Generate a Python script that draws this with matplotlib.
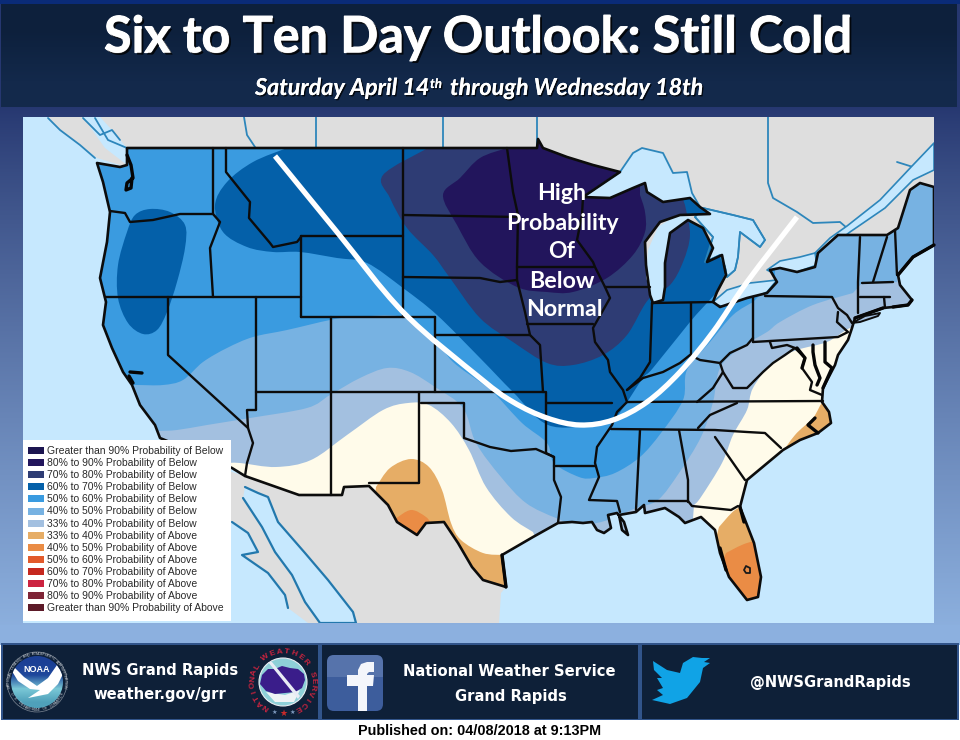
import numpy as np
import matplotlib
matplotlib.use("Agg")
import matplotlib.pyplot as plt
from matplotlib.path import Path
from matplotlib.patches import PathPatch, Polygon, Rectangle, Circle, FancyBboxPatch
import matplotlib.patheffects as pe

# ---------- text and legend ----------
TITLE = "Six to Ten Day Outlook: Still Cold"
LEGEND_LABELS = ["Greater than 90% Probability of Below", "80% to 90% Probability of Below",
    "70% to 80% Probability of Below", "60% to 70% Probability of Below", "50% to 60% Probability of Below",
    "40% to 50% Probability of Below", "33% to 40% Probability of Below", "33% to 40% Probability of Above",
    "40% to 50% Probability of Above", "50% to 60% Probability of Above", "60% to 70% Probability of Above",
    "70% to 80% Probability of Above", "80% to 90% Probability of Above", "Greater than 90% Probability of Above"]
LEGEND_COLORS = ["#1c1550", "#22155c", "#2e3c74", "#0460a9", "#3a9be0", "#77b2e2", "#a3c0e0",
    "#e6ad66", "#ea8c45", "#e25a2b", "#c5281f", "#cc2340", "#7e2436", "#5c1a28"]
MAP_WORDS = ["High", "Probability", "Of", "Below", "Normal"]

# ---------- geography, in picture pixels ----------
US = [(127,148),(537,148),(538,139),(543,148),(567,157),(593,165),(620,172),(583,197),(610,198),(633,188),(645,183),
 (647,192),(663,202),(690,198),(700,207),(710,214),(680,215),(660,222),(645,242),(646,265),(650,295),(653,303),(663,300),(665,287),
 (665,263),(670,233),(688,220),(703,228),(713,248),(707,262),(722,255),(726,275),(717,292),(713,302),(720,307),(747,298),
 (767,293),(777,282),(770,270),(780,268),(797,272),(815,267),(818,253),(838,235),(887,235),(898,228),(910,190),(920,183),(934,187),
 (934,245),(913,257),(898,275),(900,285),(912,300),(908,305),(893,307),(883,308),(855,318),(852,328),(848,340),(838,355),
 (835,365),(823,388),(822,402),(829,412),(831,423),(818,433),(800,440),(783,450),(747,480),(740,507),(754,543),(761,577),(758,597),
 (747,600),(729,577),(720,553),(715,530),(701,517),(685,523),(679,517),(665,508),(645,513),(644,505),(636,512),(619,515),(622,530),(628,535),
 (624,522),(617,513),(608,515),(611,528),(604,533),(597,530),(592,522),(583,523),(572,522),(558,523),(533,537),(502,555),(506,587),(483,580),
 (472,567),(458,543),(444,522),(426,523),(417,535),(397,522),(388,505),
 (369,486),(344,487),(342,495),(299,495),(245,476),(232,468),(160,438),(155,425),(140,405),(132,385),(123,372),(112,348),
 (103,325),(106,302),(100,278),(107,242),(110,212),(103,182),(97,163),(120,167),(127,165)]
MEXICO = [(225,470),(245,476),(299,495),(342,495),(344,487),(369,486),(388,505),(397,522),(417,535),(426,523),(444,522),
 (458,543),(472,567),(483,580),(506,587),(501,593),(499,623),(225,623)]
CANADA = [(48,117),(934,117),(934,190),(880,300),(127,300),(120,165),(97,158),(80,145),(60,130)]
GULF_CA = [(245,487),(258,493),(268,497),(278,522),(305,553),(328,580),(353,612),(356,623),(320,623),(305,602),(292,575),
 (275,552),(262,527),(243,498)]
PACIFIC_BAJA = [(225,520),(232,522),(248,533),(258,552),(242,555),(268,573),(285,595),(288,608),(308,623),(225,623)]
STRAIT = [(83,117),(100,117),(112,130),(127,148),(127,165),(118,158),(105,148)]
SUPERIOR = [(583,197),(620,172),(633,153),(642,148),(663,153),(673,173),(687,172),(692,193),(700,207),(690,198),(663,202),(647,192),
 (645,183),(633,188),(610,198)]
MICHIGAN = [(653,303),(646,277),(648,250),(658,227),(677,215),(692,217),(688,220),(670,233),(665,263),(665,287),(660,302)]
HURON = [(703,208),(733,215),(753,220),(765,240),(760,247),(740,232),(738,257),(735,270),(727,277),(725,267),(720,255),
 (705,262),(713,237),(695,217)]
ERIE = [(713,302),(727,290),(750,283),(777,280),(767,292),(753,298),(730,308),(717,305)]
ONTARIO = [(767,270),(780,261),(800,257),(815,253),(817,265),(797,272),(777,275)]
ST_LAWRENCE = [(815,253),(830,238),(847,226),(880,200),(913,165),(934,143),(934,170),(913,180),(885,208),(850,232),(820,255)]
BLUE_LINES = [[(244,117),(247,135),(255,147)],[(316,117),(316,147)],[(443,117),(443,147)],[(537,117),(537,145)],
 [(768,117),(768,183),(773,198),(797,212),(813,223),(840,222),(847,228)],[(897,162),(913,167),(907,182)],
 [(48,118),(60,130),(80,145),(95,158)],[(83,118),(100,135),(112,130),(120,140)],[(95,118),(108,140),(127,148)]]

STATE_LINES = [
 [(110,211),(125,213),(130,222),(153,220),(180,214),(213,214),(220,222),(210,248),(213,297)],
 [(213,148),(213,214)], [(105,297),(301,297)], [(168,297),(168,355),(248,428),(253,443),(247,463),(245,476)],
 [(226,148),(226,172),(250,202),(249,218),(270,243),(273,247),(297,242),(301,237)],
 [(301,236),(403,236)], [(301,236),(301,317)], [(301,317),(435,317)], [(403,148),(403,317)],
 [(256,297),(256,410),(247,410),(248,428)], [(331,317),(331,495)], [(256,392),(545,392)], [(435,317),(435,392)],
 [(435,335),(530,335)], [(403,215),(518,217)], [(403,277),(480,278),(500,282),(517,280)],
 [(507,148),(513,192),(518,215),(517,267),(517,280),(525,312),(530,335),(540,345),(543,392)],
 [(517,267),(593,267)], [(583,197),(582,215),(577,240),(593,262),(595,267),(605,287),(610,298),(593,328),(595,342),(608,360),
  (610,372),(623,390),(627,402),(617,412),(612,425),(597,447),(595,463),(599,477),(589,500),(617,501),(620,512)],
 [(527,324),(593,324)], [(605,287),(650,287)], [(419,392),(419,483),(369,483)], [(421,403),(464,403),(464,438),(490,447),
  (511,451),(536,449),(554,457),(554,480),(561,497),(558,523)],
 [(546,392),(546,453),(554,457)], [(547,403),(612,403)], [(554,466),(595,466)],
 [(627,402),(823,401)], [(611,429),(715,430),(747,432),(765,433),(781,448)], [(640,430),(636,510)],
 [(679,430),(688,480),(688,502)], [(649,501),(688,501),(692,506),(731,510),(738,506)], [(715,437),(745,480)], [(698,428),(710,415),(737,403)],
 [(652,303),(650,362),(640,378),(627,390)], [(627,390),(643,378),(663,372),(680,363),(690,355),(700,360),(720,363),(730,353),(747,345),(753,338)],
 [(691,303),(691,355)], [(652,303),(713,302)], [(753,297),(753,342)], [(765,296),(832,297),(838,308),(847,315),(852,323)],
 [(838,312),(837,322),(848,332),(838,337),(753,342)],
 [(770,342),(772,348),(787,345),(795,348),(785,355),(773,363),(763,372),(747,388),(733,388),(723,372),(720,363)],
 [(723,372),(713,388),(697,402)], [(795,348),(805,358),(802,368),(812,382),(810,390),(822,395)],
 [(860,237),(858,282),(858,313)], [(862,283),(893,282)], [(887,237),(873,282)], [(895,230),(897,275)],
 [(860,297),(890,297)], [(884,297),(885,308)]]
HEAVY_LINES = [[(127,155),(131,165),(133,178),(127,183),(126,190),(131,188),(132,178)], [(130,372),(142,373)], [(129,376),(133,383)],
 [(813,345),(813,352),(815,365),(820,378),(817,385)], [(825,342),(825,362),(832,368),(823,388)], [(934,245),(913,257),(898,275)],
 [(720,548),(726,570)], [(740,507),(744,522)], [(502,555),(506,587)], [(893,307),(908,305),(912,300)], [(797,348),(805,358),(802,368)],
 [(818,433),(808,425),(815,418)], [(855,318),(883,308)]]
LONG_ISLAND = [(852,323),(865,316),(880,313),(878,316),(860,322)]
LAKE_OKEE = [(746,566),(750,568),(750,573),(746,573),(744,570)]

# ---------- outlook contours, in picture pixels ----------
B33_EDGE = [(225,463),(240,463),(276,467),(311,460),(347,435),(383,410),(408,403),(429,405),(451,423),(469,450),(486,487),
 (511,517),(533,532)]
B33_EDGE2 = [(694,505),(701,497),(722,463),(733,435),(747,410),(753,388),(773,362),(797,350),(827,342),(850,328),(870,325)]
B40_EDGE = [(140,432),(158,431),(177,430),(207,425),(250,418),(307,408),(330,395),(360,378),(387,368),(410,372),(435,387),(463,408),
 (476,443),(501,477),(526,503),(556,518),(580,525),(608,520),(636,508),(658,500),(679,473),(701,437),(713,402),(720,368),(740,348),(767,332),
 (780,322),(813,305),(853,293)]
B50_EDGE = [(125,385),(138,385),(163,385),(183,380),(203,362),(227,348),(253,337),(287,330),(330,320),(353,317),(403,317),(433,338),
 (453,362),(480,382),(494,393),(522,423),(547,443),(554,463),(579,477),(594,478),(615,473),(640,457),(661,433),(683,400),(687,370),(710,342),
 (733,315),(753,302)]
B60_OREGON = [(135,215),(150,209),(170,212),(185,225),(185,248),(177,282),(167,312),(157,330),(143,334),(128,323),(118,298),(118,265),(127,232)]
B60_EDGE = [(287,148),(253,162),(227,182),(215,205),(223,232),(247,247),(273,252),(300,252),(337,258),(367,263),(403,288),(437,315),(480,358),
 (513,392),(548,425),(593,425),(612,420),(623,408),(643,378),(653,368),(690,322),(707,303),(717,292)]
B70_EDGE = [(428,148),(383,175),(390,198),(407,228),(433,255),(450,278),(480,318),(513,342),(547,363),(573,365),(603,355),(627,335),(648,300),
 (670,285),(683,262),(690,235),(685,205)]
B80_EDGE = [(507,148),(480,158),(460,178),(443,195),(457,225),(480,262),(517,287),(547,292),(573,292),(607,278),(633,255),(645,232),(645,212),(640,195)]
A33_TX = [(376,487),(390,468),(411,459),(429,467),(442,490),(451,523),(461,540),(483,553),(504,555)]
A40_TX = [(395,519),(411,510),(426,517),(432,525)]
A33_FL = [(719,527),(735,510),(750,505)]
A40_FL = [(726,553),(747,543),(776,537)]
A33_NC = [(780,457),(795,435),(813,418),(824,402),(835,420),(815,440),(785,460)]
NC_BANK = [(823,403),(829,412),(830,423),(813,432)]
WHITE_CURVE = [(275,156),(337,232),(403,312),(480,378),(513,402),(547,418),(580,425),(613,420),(647,402),(680,372),(713,332),(747,282),(797,217)]

# ---------- logos, in picture pixels ----------
TWITTER = [(653,661),(667,670),(680,673),(683,663),(693,657),(702,658),(710,658),(704,662),(710,663),(703,668),(700,682),(687,698),(670,704),
 (652,700),(663,695),(657,690),(663,688),(657,678),(662,678),(654,670)]
FB_F = [(358,711),(358,686),(347,686),(347,675),(358,675),(358,670),(361,664),(367,662),(374,662),(374,672),(369,672),(367,674),(367,675),(374,675),(373,686),(367,686),(367,711)]
NWS_CLOUD = [(262,675),(268,669),(275,669),(282,666),(290,668),(298,669),(304,674),(305,680),(302,688),(295,692),(285,693),(275,694),(266,691),(260,684)]
NWS_BOLT = [(268,662),(272,662),(300,696),(298,699)]
NOAA_SWOOSH = [(10,668),(14,667),(24,677),(37,686),(48,678),(57,665),(63,674),(58,684),(48,694),(28,698),(40,690),(30,689),(18,681)]

fig = plt.figure(figsize=(9.6, 7.4), dpi=100)
ax = fig.add_axes([0, 0, 1, 1])
ax.set_xlim(0, 960); ax.set_ylim(740, 0); ax.axis("off")

def smooth(pts, closure=(), closed=False):
    p = np.array(pts, float)
    if closed:
        p = np.vstack([p[-1], p, p[0], p[1]])
    else:
        p = np.vstack([p[0], p, p[-1]])
    v = [p[1]]; c = [Path.MOVETO]
    for i in range(1, len(p) - 2):
        c1 = p[i] + (p[i+1] - p[i-1]) / 6
        c2 = p[i+1] - (p[i+2] - p[i]) / 6
        v += [c1, c2, p[i+1]]; c += [Path.CURVE4] * 3
    for q in closure:
        v.append(q); c.append(Path.LINETO)
    if closure or closed:
        v.append(v[0]); c.append(Path.CLOSEPOLY)
    return Path(np.array(v), c)

def poly(pts, fc, ec="none", lw=0, z=1, **kw):
    pa = Polygon(pts, closed=True, fc=fc, ec=ec, lw=lw, zorder=z, joinstyle="round", **kw)
    ax.add_patch(pa)
    return pa

def line(pts, color, lw, z, **kw):
    a = np.array(pts)
    return ax.plot(a[:, 0], a[:, 1], color=color, lw=lw, zorder=z, solid_capstyle="round", solid_joinstyle="round", **kw)[0]

# page background
ax.add_patch(Rectangle((0, 0), 960, 112, fc="#263770", ec="none", zorder=0))
grad = np.linspace(0, 1, 256)[:, None]
c0, c1 = np.array([0x26, 0x37, 0x70]) / 255, np.array([0x8e, 0xb2, 0xe0]) / 255
img = (c0 + (c1 - c0) * grad[..., None] ** 0.85).reshape(256, 1, 3)
ax.imshow(img, extent=(0, 960, 640, 105), aspect="auto", zorder=0)
ax.set_xlim(0, 960); ax.set_ylim(740, 0)
ax.add_patch(Rectangle((0, 625), 960, 20, fc="#8cb0df", ec="none", zorder=0.1))
ax.add_patch(Rectangle((0, 720), 960, 20, fc="white", ec="none", zorder=0.1))

# header
ax.add_patch(Rectangle((0, 0), 960, 4, fc="#0a2b78", ec="none", zorder=1))
ax.imshow(np.array([[[0x0d, 0x20, 0x3c]], [[0x13, 0x29, 0x4b]]], dtype=np.uint8), extent=(1, 957, 107, 4), aspect="auto", zorder=1, interpolation="bilinear")
ax.set_xlim(0, 960); ax.set_ylim(740, 0)
t = ax.text(478, 38, TITLE, color="white", fontfamily="Lato", fontweight="bold", fontsize=36.2, ha="center", va="center", zorder=5)
t.set_path_effects([pe.withStroke(linewidth=0.9, foreground="white"), pe.withSimplePatchShadow(offset=(1.5, -1.5), shadow_rgbFace="black", alpha=0.8), pe.Normal()])
sub_style = dict(color="white", fontfamily="Lato", fontweight="bold", fontstyle="italic", va="baseline", zorder=5)
for x, y, s, fs in [(255, 95, "Saturday April 14", 16.8), (430, 88, "th", 9.5), (450, 95, "through Wednesday 18th", 16.8)]:
    tt = ax.text(x, y, s, fontsize=fs, **sub_style)
    tt.set_path_effects([pe.withSimplePatchShadow(offset=(1, -1), shadow_rgbFace="black", alpha=0.8), pe.Normal()])

# map
ax.add_patch(Rectangle((23, 117), 911, 506, fc="#c6e8fe", ec="none", zorder=2))
frame = Rectangle((23, 117), 911, 506, transform=ax.transData)
for pts, col in [(CANADA, "#dedede"), (MEXICO, "#dedede"), (GULF_CA, "#c6e8fe"), (PACIFIC_BAJA, "#c6e8fe"), (STRAIT, "#c6e8fe")]:
    poly(pts, col, z=3).set_clip_path(frame)
for pts in BLUE_LINES:
    line(pts, "#2d86bb", 1.3, 3.2).set_clip_path(frame)
for pts in [GULF_CA, PACIFIC_BAJA[1:-2]]:
    line(pts, "#2278ad", 1.6, 3.2).set_clip_path(frame)
for pts in [HURON, ERIE, ONTARIO, ST_LAWRENCE]:
    poly(pts, "#c6e8fe", ec="#2d86bb", lw=1.2, z=3.3).set_clip_path(frame)

us_patch = poly(US, "#fffbea", z=4)
us_patch.set_clip_path(frame)

def band(path, color, z):
    pa = PathPatch(path, fc=color, ec="none", lw=0, zorder=z)
    ax.add_patch(pa)
    pa.set_clip_path(us_patch.get_path(), us_patch.get_transform())

# blue 33-40: the whole northern part, with a straight run under the Gulf
v1 = smooth(B33_EDGE); v2 = smooth(B33_EDGE2)
verts = np.vstack([v1.vertices, [(545, 560), (690, 560), (694, 505)], v2.vertices[1:], [(960, 300), (960, 90), (90, 90), (90, 463), (225, 463)]])
codes = list(v1.codes) + [Path.LINETO] * 3 + list(v2.codes[1:]) + [Path.LINETO] * 4 + [Path.CLOSEPOLY]
band(Path(verts, codes), "#a3c0e0", 4.1)
band(smooth(B40_EDGE, [(862,283),(897,282),(898,270),(960,255),(960,90),(90,90),(90,432)]), "#77b2e2", 4.2)
band(smooth(B50_EDGE, [(775,280),(775,90),(90,90),(90,385)]), "#3a9be0", 4.3)
band(smooth(B60_OREGON, closed=True), "#0460a9", 4.4)
band(smooth(B60_EDGE, [(735,250),(735,90),(287,90)]), "#0460a9", 4.4)
band(smooth(B70_EDGE, [(670,160),(640,90),(428,90)]), "#2e3c74", 4.5)
band(smooth(B80_EDGE, [(640,90),(507,90)]), "#22155c", 4.6)
band(smooth(A33_TX, [(560,640),(360,640)]), "#e6ad66", 4.7)
band(smooth(A40_TX, [(432,560),(380,560)]), "#ea8c45", 4.8)
band(smooth(A33_FL, [(790,520),(790,640),(690,640)]), "#e6ad66", 4.7)
band(smooth(A40_FL, [(790,640),(690,640)]), "#ea8c45", 4.8)
band(smooth(A33_NC, closed=True), "#e6ad66", 4.7)
line(NC_BANK, "#e6ad66", 1.3, 4.9)

# lakes over the land
for pts in [SUPERIOR, MICHIGAN]:
    poly(pts, "#c6e8fe", z=5)
line(SUPERIOR[:9], "#2d86bb", 1.3, 5.1)
line(HURON, "#2d86bb", 1.3, 5.1)

# borders
poly(US, "none", ec="#0c0c0c", lw=1.9, z=6).set_clip_path(frame)
for pts in STATE_LINES:
    line(pts, "#0c0c0c", 1.7, 6)
for pts in HEAVY_LINES:
    line(pts, "#050505", 2.4, 6)
poly(LONG_ISLAND, "#a3c0e0", ec="#0c0c0c", lw=1.4, z=6.1)
poly(LAKE_OKEE, "none", ec="#1a1a1a", lw=1.3, z=6.1)

# white trough and words
ax.add_patch(PathPatch(smooth(WHITE_CURVE), fc="none", ec="white", lw=3.8, zorder=7, capstyle="butt"))
for word, y, x in zip(MAP_WORDS, [194, 223, 252, 281, 310], [562, 562, 562, 562, 564]):
    ax.text(x, y, word, color="white", fontfamily="Lato", fontweight="bold", fontsize=16.7, ha="center", va="center", zorder=8)

# legend
ax.add_patch(Rectangle((23, 440), 208, 181, fc="white", ec="none", zorder=9))
for i, (lab, col) in enumerate(zip(LEGEND_LABELS, LEGEND_COLORS)):
    y = 450.5 + i * 12.1
    ax.add_patch(Rectangle((28, y - 3.5), 15.5, 7, fc=col, ec="none", zorder=10))
    ax.text(47, y + 0.5, lab, fontfamily="Liberation Sans", fontsize=7.45, color="#2a2a2a", va="center", ha="left", zorder=10)

# footer panels
for x0, x1 in [(3, 318), (322, 638), (642, 957)]:
    ax.add_patch(Rectangle((x0 - 2, 643), x1 - x0 + 4, 77, fc="#31548a", ec="none", zorder=2))
    ax.add_patch(Rectangle((x0, 645), x1 - x0, 74, fc="#0e2038", ec="none", zorder=3))
ft = dict(color="white", fontfamily="DejaVu Sans", fontweight="bold", va="center", ha="center", zorder=5)
ax.text(160, 670, "NWS Grand Rapids", fontsize=10.6, **ft)
ax.text(160, 694, "weather.gov/grr", fontsize=10.6, **ft)
ax.text(509, 671, "National Weather Service", fontsize=10.6, **ft)
ax.text(511, 696, "Grand Rapids", fontsize=10.6, **ft)
ax.text(830, 683, "@NWSGrandRapids", fontsize=10.6, **ft)
ax.text(479.5, 731, "Published on: 04/08/2018 at 9:13PM", fontfamily="Liberation Sans", fontweight="bold", fontsize=10.4, color="black", ha="center", va="center", zorder=5)

def arc_text(cx, cy, r, s, a0, a1, size, color, weight="bold", flip=False):
    for ch, a in zip(s, np.linspace(a0, a1, len(s))):
        th = np.radians(a)
        ax.text(cx + r * np.cos(th), cy - r * np.sin(th), ch, fontsize=size, color=color, fontfamily="Liberation Sans",
                fontweight=weight, rotation=a + (90 if flip else -90), ha="center", va="center", zorder=5.5, rotation_mode="anchor")

# NOAA seal
ax.add_patch(Circle((37, 682), 30, fc="#0e2038", ec="#7d8794", lw=0.5, zorder=4))
noaa = ax.imshow(np.array([[[0x1b, 0x3f, 0x95]], [[0x1f, 0x48, 0x9c]], [[0x7a, 0xc8, 0xd6]], [[0x4f, 0xa0, 0xba]]], dtype=np.uint8),
                 extent=(10, 64, 709, 655), aspect="auto", zorder=4.2, interpolation="bilinear")
noaa.set_clip_path(Circle((37, 682), 26, transform=ax.transData))
ax.set_xlim(0, 960); ax.set_ylim(740, 0)
swoosh = poly(NOAA_SWOOSH, "white", z=4.4)
swoosh.set_clip_path(Circle((37, 682), 26, transform=ax.transData))
ax.text(37, 670, "NOAA", fontsize=6.5, fontfamily="Liberation Sans", fontweight="bold", color="white", ha="center", va="center", zorder=5)
arc_text(37, 682, 28, "NATIONAL OCEANIC AND ATMOSPHERIC ADMINISTRATION", 190, -10, 2.6, "#c9ced4", weight="normal")
arc_text(37, 682, 28, "U.S. DEPARTMENT OF COMMERCE", 205, 335, 2.6, "#c9ced4", weight="normal", flip=True)

# NWS seal
ax.add_patch(Circle((283, 682), 24, fc="#8ed0d8", ec="#e8edf2", lw=0.8, zorder=4.1))
poly(NWS_CLOUD, "#3a1d8a", z=4.3)
poly([(266,692),(285,695),(300,690),(294,702),(275,702)], "#eef3f5", z=4.25)
poly(NWS_BOLT, "#e8ecf5", z=4.5)
arc_text(283, 682, 30, "NATIONAL", 235, 150, 6, "#c9243f")
arc_text(283, 682, 30, "WEATHER", 125, 40, 6, "#c9243f")
arc_text(283, 682, 30, "SERVICE", 15, -60, 6, "#c9243f")
ax.text(283, 713, "★", fontsize=6.5, color="#c92a2a", ha="center", va="center", zorder=5)
ax.text(274, 712, "★", fontsize=4.5, color="#7f9bc0", ha="center", va="center", zorder=5)
ax.text(292, 712, "★", fontsize=4.5, color="#7f9bc0", ha="center", va="center", zorder=5)

# Facebook
fb = FancyBboxPatch((330, 658), 50, 50, boxstyle="round,pad=3,rounding_size=7", fc="#3d5d9c", ec="none", zorder=4)
ax.add_patch(fb)
shine = Rectangle((327, 655), 56, 22, fc="#7d95c2", ec="none", alpha=0.4, zorder=4.1)
ax.add_patch(shine)
shine.set_clip_path(fb.get_path(), fb.get_transform())
poly(FB_F, "#f4f6fb", z=4.5)

# Twitter
poly(TWITTER, "#10a3e6", z=4.5)

fig.savefig("out.png", dpi=100)
